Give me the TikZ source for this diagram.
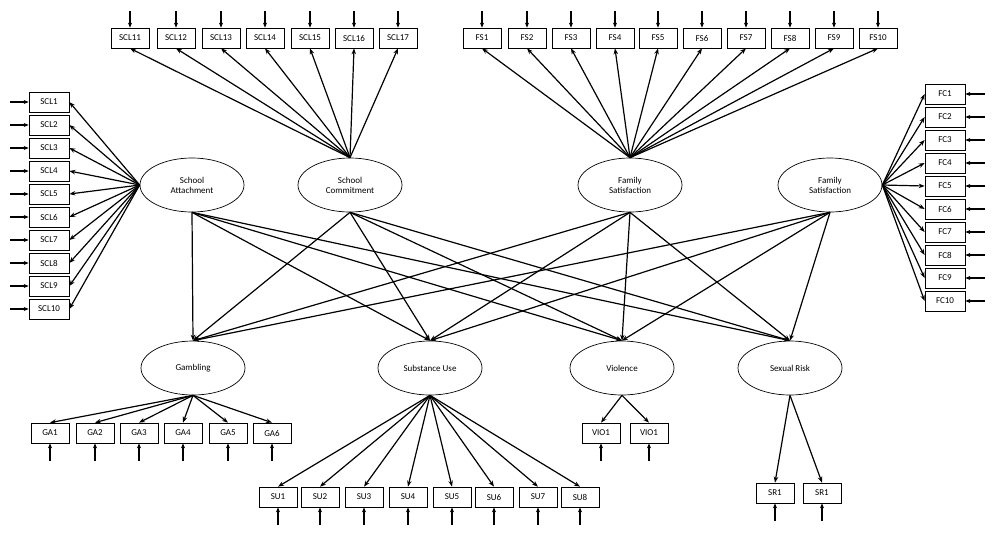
\documentclass[tikz,border=0pt]{standalone}
\usepackage{fontspec}
\setmainfont{Carlito}
\usetikzlibrary{arrows.meta,shapes.geometric}
\begin{document}
\begin{tikzpicture}[x=1pt,y=-1pt,
  box/.style={draw,minimum width=38pt,minimum height=20pt,inner sep=0pt,line width=0.7pt,font=\fontsize{9}{10}\selectfont},
  lat/.style={draw,ellipse,minimum width=104pt,minimum height=54pt,align=center,line width=0.7pt,font=\fontsize{9}{10}\selectfont},
  ar/.style={-{Stealth[length=6pt,width=4.5pt]},line width=1.2pt},
  er/.style={-{Stealth[length=5pt,width=4pt]},line width=1.3pt}]
\useasboundingbox (0,0) rectangle (994,539);
% latents
\node[lat] (SA) at (192,185) {School\\Attachment};
\node[lat] (SC) at (350,185) {School\\Commitment};
\node[lat] (FS) at (630,185) {Family\\Satisfaction};
\node[lat] (FC) at (830,185) {Family\\Satisfaction};
\node[lat] (GA) at (193,368) {Gambling};
\node[lat] (SU) at (430,368) {Substance Use};
\node[lat] (VI) at (622,368) {Violence};
\node[lat] (SR) at (790,368) {Sexual Risk};
% top SCL11-17
\foreach \i/\x in {11/130,12/176,13/221,14/265,15/310,16/354,17/398}{
  \node[box] (scl\i) at (\x,38) {SCL\i};
  \coordinate (e\i) at (\x,11);
  \draw[er] (e\i) -- (scl\i.north);
  \draw[ar] (SC.north) -- (scl\i.south);}
\foreach \i/\x in {1/482,2/527,3/571,4/615,5/658,6/702,7/746,8/790,9/834,10/878}{
  \node[box] (fs\i) at (\x,38) {FS\i};
  \coordinate (ef\i) at (\x,11);
  \draw[er] (ef\i) -- (fs\i.north);
  \draw[ar] (FS.north) -- (fs\i.south);}
\foreach \i in {1,...,10}{
  \node[box,minimum width=40pt] (scl\i) at (49,{79+23*\i}) {SCL\i};
  \coordinate (es\i) at (10,{79+23*\i});
  \draw[er] (es\i) -- (scl\i.west);
  \draw[ar] (SA.west) -- (scl\i.east);
  \node[box,minimum width=40pt] (fc\i) at (945,{71+23*\i}) {FC\i};
  \coordinate (ec\i) at (985,{71+23*\i});
  \draw[er] (ec\i) -- (fc\i.east);
  \draw[ar] (FC.east) -- (fc\i.west);}
% structural
\foreach \a in {SA,SC,FS,FC}{\foreach \b in {GA,SU,VI,SR}{
  \draw[ar] (\a.south) -- (\b.north);}}
% outcomes
\foreach \i/\x in {1/50,2/95,3/139,4/183,5/228,6/272}{
  \node[box] (ga\i) at (\x,433) {GA\i};
  \coordinate (eg\i) at (\x,461);
  \draw[er] (eg\i) -- (ga\i.south);
  \draw[ar] (GA.south) -- (ga\i.north);}
\foreach \i/\x in {1/278,2/320,3/364,4/408,5/452,6/494,7/538,8/580}{
  \node[box] (su\i) at (\x,497) {SU\i};
  \coordinate (eu\i) at (\x,525);
  \draw[er] (eu\i) -- (su\i.south);
  \draw[ar] (SU.south) -- (su\i.north);}
\foreach \i/\x in {1/601,2/649}{
  \node[box] (vi\i) at (\x,433) {VIO1};
  \coordinate (ev\i) at (\x,461);
  \draw[er] (ev\i) -- (vi\i.south);
  \draw[ar] (VI.south) -- (vi\i.north);}
\foreach \i/\x in {1/775,2/822}{
  \node[box] (sr\i) at (\x,493) {SR1};
  \coordinate (ez\i) at (\x,521);
  \draw[er] (ez\i) -- (sr\i.south);
  \draw[ar] (SR.south) -- (sr\i.north);}
\end{tikzpicture}
\end{document}
